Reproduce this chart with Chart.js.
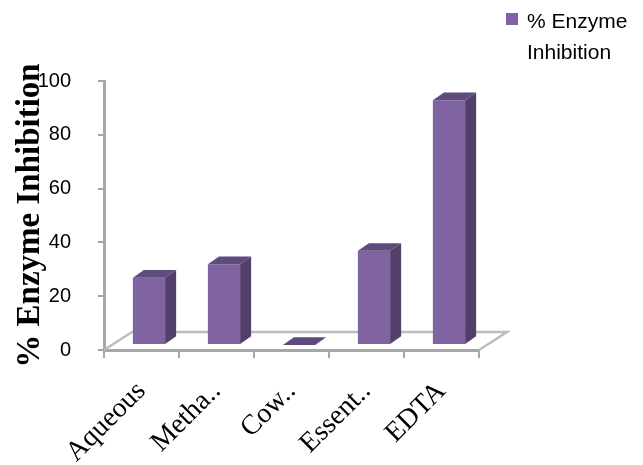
<!DOCTYPE html>
<html><head><meta charset="utf-8">
<script src="https://cdn.jsdelivr.net/npm/chart.js@4"></script>
<style>html,body{margin:0;padding:0;background:#fff}#wrap{width:643px;height:465px}</style>
</head><body><div id="wrap"><canvas id="c" width="643" height="465"></canvas></div>
<script>
const categories = ['Aqueous', 'Metha..', 'Cow..', 'Essent..', 'EDTA'];
const inhibition = [25, 30, 0, 35, 91];
const yTicks = [0, 20, 40, 60, 80, 100];
const seriesName = '% Enzyme Inhibition';

const FRONT = '#8064A2', SIDE = '#523F6A', TOP = '#604B7E';
const AXIS = '#a6a6a6', FLOOR = '#bdbdbd';

const threeD = {
  id: 'threeD',
  beforeDatasetsDraw(chart) {
    const { ctx, chartArea: a } = chart;
    ctx.save();
    ctx.strokeStyle = FLOOR; ctx.lineWidth = 2.5;
    ctx.beginPath();
    ctx.moveTo(a.left, a.bottom);
    ctx.lineTo(a.left + 28, a.bottom - 18);
    ctx.lineTo(a.right + 28, a.bottom - 18);
    ctx.lineTo(a.right, a.bottom);
    ctx.stroke();
    ctx.restore();
    ctx.save();
    ctx.translate(7.5, -5);
  },
  afterDatasetsDraw(chart) {
    const { ctx } = chart;
    const dx = 11, dy = -7.7;
    chart.getDatasetMeta(0).data.forEach(bar => {
      const { x, y, base, width } = bar.getProps(['x', 'y', 'base', 'width'], true);
      const l = x - width / 2, r = x + width / 2;
      ctx.fillStyle = SIDE;
      ctx.beginPath();
      ctx.moveTo(r, y); ctx.lineTo(r + dx, y + dy); ctx.lineTo(r + dx, base + dy); ctx.lineTo(r, base);
      ctx.closePath(); ctx.fill();
      ctx.fillStyle = TOP;
      ctx.beginPath();
      ctx.moveTo(l, y); ctx.lineTo(l + dx, y + dy); ctx.lineTo(r + dx, y + dy); ctx.lineTo(r, y);
      ctx.closePath(); ctx.fill();
    });
    ctx.restore();
  },
  afterDraw(chart) {
    const { ctx } = chart;
    const cut = seriesName.lastIndexOf(' ');
    const lines = [seriesName.slice(0, cut), seriesName.slice(cut + 1)];
    ctx.save();
    ctx.fillStyle = FRONT;
    ctx.fillRect(506, 13, 12, 12);
    ctx.fillStyle = '#000';
    ctx.font = '21px "Liberation Sans", Arial, sans-serif';
    ctx.textBaseline = 'alphabetic';
    ctx.fillText(lines[0], 527, 28);
    ctx.fillText(lines[1], 527, 59);
    ctx.restore();
  }
};

new Chart(document.getElementById('c'), {
  type: 'bar',
  data: {
    labels: categories,
    datasets: [{
      label: seriesName,
      data: inhibition,
      backgroundColor: FRONT,
      borderWidth: 0,
      barPercentage: 0.43,
      categoryPercentage: 1.0
    }]
  },
  options: {
    responsive: false,
    animation: false,
    devicePixelRatio: 1,
    layout: { padding: { top: 81, right: 164, left: 0, bottom: 0 } },
    plugins: { legend: { display: false }, tooltip: { enabled: false } },
    scales: {
      y: {
        min: 0, max: 100,
        afterBuildTicks(s) { s.ticks = yTicks.map(v => ({ value: v })); },
        ticks: { font: { family: '"Liberation Sans", Arial, sans-serif', size: 20 }, color: '#000', padding: 27 },
        grid: { drawOnChartArea: false, drawTicks: true, tickLength: 6, color: AXIS, lineWidth: 2 },
        border: { color: AXIS, width: 3 },
        title: { display: true, text: seriesName, color: '#000',
          font: { family: '"Liberation Serif", "Times New Roman", serif', size: 33, weight: 'bold' },
          padding: { top: 11, bottom: 0 } },
        afterFit(s) { s.width = 104; }
      },
      x: {
        ticks: { autoSkip: false, maxRotation: 45, minRotation: 45, color: '#000', padding: 17,
          font: { family: '"Liberation Serif", "Times New Roman", serif', size: 28 } },
        grid: { drawOnChartArea: false, drawTicks: true, tickLength: 8, color: AXIS, lineWidth: 2 },
        border: { color: AXIS, width: 3 },
        afterFit(s) { s.height = 115; }
      }
    }
  },
  plugins: [threeD]
});
</script></body></html>
